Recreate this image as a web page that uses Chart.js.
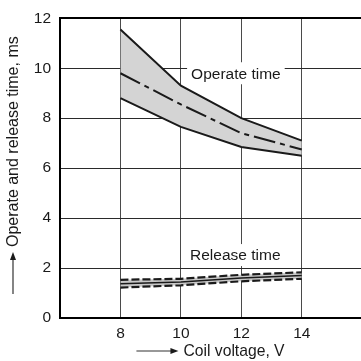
<!DOCTYPE html>
<html>
<head>
<meta charset="utf-8">
<script src="https://cdn.jsdelivr.net/npm/chart.js@4"></script>
<style>
  html, body { margin: 0; padding: 0; background: #fff; }
  canvas { display: block; }
</style>
</head>
<body>
<canvas id="relayChart" width="361" height="361"></canvas>
<script>
// ===== Data =====
const voltage = [8, 10, 12, 14];
const operateMax = [11.55, 9.3, 8.0, 7.1];
const operateTyp = [9.8, 8.55, 7.4, 6.75];
const operateMin = [8.8, 7.65, 6.85, 6.5];
const releaseMax = [1.53, 1.57, 1.73, 1.83];
const releaseTyp = [1.37, 1.44, 1.6, 1.7];
const releaseMin = [1.22, 1.31, 1.47, 1.57];
const yTicks = [0, 2, 4, 6, 8, 10, 12];
const xTicks = [8, 10, 12, 14];

const FONT = '"Liberation Sans", Arial, Helvetica, sans-serif';
const INK = "#1a1a1a";

const pts = (ys) => voltage.map((v, i) => ({ x: v, y: ys[i] }));

// labels for each curve group, placed in data units
const curveLabels = [
  { text: "Operate time", x: 11.82, y: 9.8 },
  { text: "Release time", x: 11.8, y: 2.52 },
];

// ===== Annotations + axis titles with arrows =====
const decorations = {
  id: "decorations",
  afterDatasetsDraw(chart) {
    const { ctx, scales } = chart;
    ctx.save();
    ctx.font = "15.5px " + FONT;
    ctx.textAlign = "center";
    ctx.textBaseline = "middle";
    curveLabels.forEach((l) => {
      const cx = scales.x.getPixelForValue(l.x);
      const cy = scales.y.getPixelForValue(l.y);
      const w = ctx.measureText(l.text).width + 8;
      ctx.fillStyle = "#fff";
      ctx.fillRect(cx - w / 2, cy - 11, w, 22);
      ctx.fillStyle = INK;
      ctx.fillText(l.text, cx, cy + 1);
    });
    ctx.restore();
  },
  afterDraw(chart) {
    const { ctx, chartArea } = chart;
    ctx.save();
    ctx.fillStyle = INK;
    ctx.strokeStyle = "#333";
    ctx.lineWidth = 1.2;
    ctx.textBaseline = "middle";
    const arrowLen = 42, gap = 5;

    // x title: arrow then text, centred under plot
    ctx.font = "15.7px " + FONT;
    const xt = "Coil voltage, V";
    const xw = ctx.measureText(xt).width;
    const total = arrowLen + gap + xw;
    const x0 = (chartArea.left + chartArea.right) / 2 - total / 2;
    const ty = 351;
    ctx.beginPath();
    ctx.moveTo(x0, ty);
    ctx.lineTo(x0 + arrowLen - 6, ty);
    ctx.stroke();
    ctx.beginPath();
    ctx.moveTo(x0 + arrowLen, ty);
    ctx.lineTo(x0 + arrowLen - 8, ty - 3);
    ctx.lineTo(x0 + arrowLen - 8, ty + 3);
    ctx.closePath();
    ctx.fill();
    ctx.textAlign = "left";
    ctx.fillText(xt, x0 + arrowLen + gap, ty + 1);

    // y title: rotated, arrow pointing up
    ctx.font = "16px " + FONT;
    const yt = "Operate and release time, ms";
    const yw = ctx.measureText(yt).width;
    const ytotal = arrowLen + gap + yw;
    const cy = (chartArea.top + chartArea.bottom) / 2;
    ctx.translate(13, cy);
    ctx.rotate(-Math.PI / 2);
    const s0 = -ytotal / 2 + 3;
    ctx.beginPath();
    ctx.moveTo(s0, 0);
    ctx.lineTo(s0 + arrowLen - 6, 0);
    ctx.stroke();
    ctx.beginPath();
    ctx.moveTo(s0 + arrowLen, 0);
    ctx.lineTo(s0 + arrowLen - 8, -3);
    ctx.lineTo(s0 + arrowLen - 8, 3);
    ctx.closePath();
    ctx.fill();
    ctx.fillText(yt, s0 + arrowLen + gap, 1);
    ctx.restore();
  },
};

const ctx = document.getElementById("relayChart").getContext("2d");
new Chart(ctx, {
  type: "line",
  data: {
    datasets: [
      {
        label: "Operate max",
        data: pts(operateMax),
        borderColor: INK,
        borderWidth: 2,
        backgroundColor: "#d4d4d4",
        fill: 2,
      },
      {
        label: "Operate typical",
        data: pts(operateTyp),
        borderColor: INK,
        borderWidth: 2,
        borderDash: [22, 5, 5, 5],
        fill: false,
      },
      {
        label: "Operate min",
        data: pts(operateMin),
        borderColor: INK,
        borderWidth: 2,
        fill: false,
      },
      {
        label: "Release max",
        data: pts(releaseMax),
        borderColor: INK,
        borderWidth: 2.2,
        borderDash: [8, 3],
        backgroundColor: "#c8c8c8",
        fill: 5,
      },
      {
        label: "Release typical",
        data: pts(releaseTyp),
        borderColor: INK,
        borderWidth: 1.6,
        fill: false,
      },
      {
        label: "Release min",
        data: pts(releaseMin),
        borderColor: INK,
        borderWidth: 2.2,
        borderDash: [8, 3],
        fill: false,
      },
    ],
  },
  options: {
    responsive: false,
    animation: false,
    layout: { padding: { top: 15, right: 0, left: 0, bottom: 0 } },
    elements: { point: { radius: 0 }, line: { tension: 0 } },
    plugins: {
      legend: { display: false },
      tooltip: { enabled: false },
      filler: { drawTime: "beforeDatasetsDraw" },
    },
    scales: {
      x: {
        type: "linear",
        min: 6,
        max: 15.96,
        afterFit: (s) => { s.height = 43; s.paddingRight = 0; s.paddingLeft = 0; },
        afterBuildTicks: (s) => { s.ticks = [6, ...xTicks].map((v) => ({ value: v })); },
        border: { display: true, color: "#000", width: 2 },
        grid: {
          drawTicks: false,
          color: (c) => (xTicks.includes(c.tick.value) ? "#4a4a4a" : "rgba(0,0,0,0)"),
          lineWidth: 1,
        },
        ticks: {
          padding: 6,
          color: INK,
          font: { family: FONT, size: 15.5 },
          callback: (v) => (xTicks.includes(v) ? v : ""),
        },
      },
      y: {
        min: 0,
        max: 12,
        afterFit: (s) => { s.width = 60; },
        afterBuildTicks: (s) => { s.ticks = yTicks.map((v) => ({ value: v })); },
        border: { display: true, color: "#000", width: 2 },
        grid: {
          drawTicks: false,
          color: (c) => (c.tick.value === 12 ? "#000" : "#2a2a2a"),
          lineWidth: (c) => (c.tick.value === 12 ? 2 : 1),
        },
        ticks: {
          padding: 9,
          color: INK,
          font: { family: FONT, size: 15.5 },
        },
      },
    },
  },
  plugins: [decorations],
});
</script>
</body>
</html>
